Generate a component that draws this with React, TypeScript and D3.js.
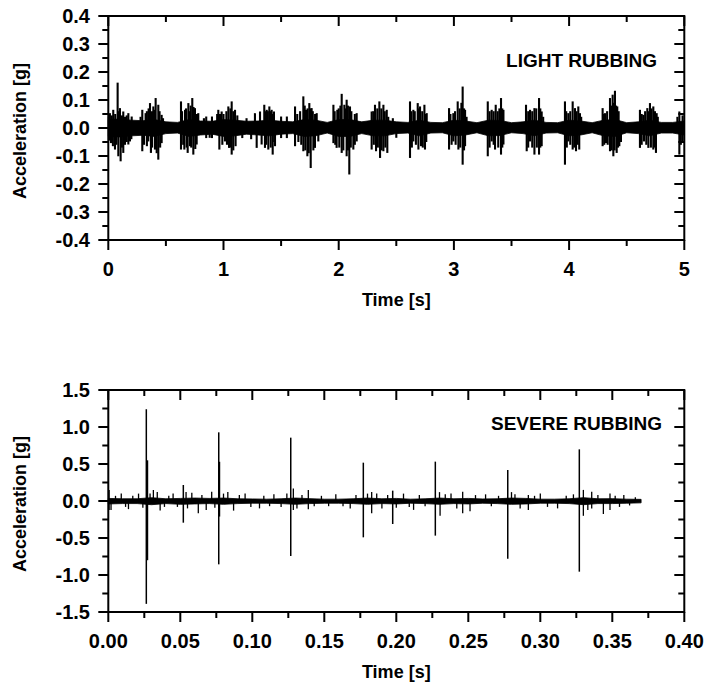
import React from 'react';
import * as d3 from 'd3';

// ---------- TOP PANEL (LIGHT RUBBING) ----------
const topXTicks = [0, 1, 2, 3, 4, 5];
const topXLabels = ['0', '1', '2', '3', '4', '5'];
const topXMinor = [0.5, 1.5, 2.5, 3.5, 4.5];
const topYTicks = [0.4, 0.3, 0.2, 0.1, 0.0, -0.1, -0.2, -0.3, -0.4];
const topYLabels = ['0.4', '0.3', '0.2', '0.1', '0.0', '-0.1', '-0.2', '-0.3', '-0.4'];
const topYMinor = [0.35, 0.25, 0.15, 0.05, -0.05, -0.15, -0.25, -0.35];

const topBandT = [0, 0.1, 0.2, 0.3, 0.4, 0.5, 0.6, 0.7, 0.8, 0.9, 1.0, 1.1, 1.2, 1.3, 1.4, 1.5, 1.6, 1.7, 1.8, 1.9, 2.0, 2.1, 2.2, 2.3, 2.4, 2.5, 2.6, 2.7, 2.8, 2.9, 3.0, 3.1, 3.2, 3.3, 3.4, 3.5, 3.6, 3.7, 3.8, 3.9, 4.0, 4.1, 4.2, 4.3, 4.4, 4.5, 4.6, 4.7, 4.8, 4.9, 5.0];
const topBandUpper = [0.03, 0.032, 0.028, 0.026, 0.03, 0.022, 0.02, 0.03, 0.025, 0.024, 0.03, 0.028, 0.024, 0.025, 0.028, 0.024, 0.022, 0.03, 0.028, 0.02, 0.03, 0.03, 0.022, 0.028, 0.028, 0.022, 0.02, 0.028, 0.02, 0.019, 0.028, 0.025, 0.019, 0.028, 0.027, 0.019, 0.022, 0.028, 0.02, 0.019, 0.028, 0.025, 0.019, 0.028, 0.03, 0.019, 0.022, 0.028, 0.02, 0.02, 0.025];
const topBandLower = [-0.03, -0.032, -0.028, -0.026, -0.03, -0.02, -0.018, -0.03, -0.025, -0.022, -0.03, -0.028, -0.022, -0.025, -0.028, -0.022, -0.02, -0.03, -0.028, -0.018, -0.03, -0.03, -0.02, -0.028, -0.028, -0.02, -0.018, -0.028, -0.018, -0.017, -0.028, -0.025, -0.017, -0.028, -0.027, -0.017, -0.02, -0.028, -0.018, -0.017, -0.028, -0.025, -0.017, -0.028, -0.03, -0.017, -0.02, -0.028, -0.018, -0.018, -0.025];

// [time s, peak acceleration g]
const topSpikes: [number, number][] = [
  [0.014, 0.053], [0.043, 0.065], [0.081, 0.162], [0.101, 0.071], [0.13, 0.059], [0.174, 0.053], [0.203, 0.041],
  [0.023, -0.054], [0.058, -0.077], [0.087, -0.101], [0.107, -0.119], [0.13, -0.089], [0.174, -0.059], [0.188, -0.048],
  [0.005, 0.04], [0.03, 0.045], [0.06, 0.05], [0.07, -0.06], [0.09, 0.06], [0.118, 0.045], [0.118, -0.07],
  [0.145, 0.04], [0.145, -0.06], [0.16, 0.045], [0.16, -0.05], [0.2, -0.04], [0.04, -0.065], [0.01, -0.045],
  [0.295, 0.065], [0.324, 0.053], [0.362, 0.089], [0.391, 0.077], [0.411, 0.107], [0.434, 0.083], [0.463, 0.047],
  [0.295, -0.083], [0.347, -0.048], [0.37, -0.089], [0.405, -0.077], [0.434, -0.113], [0.463, -0.054],
  [0.28, 0.04], [0.31, -0.06], [0.335, 0.06], [0.335, -0.065], [0.35, 0.07], [0.38, 0.06], [0.38, -0.07],
  [0.4, 0.065], [0.42, -0.09], [0.445, 0.06], [0.45, -0.07], [0.475, 0.035],
  [0.631, 0.095], [0.666, 0.065], [0.695, 0.089], [0.729, 0.107], [0.752, 0.071], [0.781, 0.053],
  [0.631, -0.077], [0.66, -0.077], [0.689, -0.089], [0.709, -0.065], [0.738, -0.095], [0.767, -0.059],
  [0.64, 0.06], [0.65, -0.06], [0.675, 0.07], [0.68, -0.07], [0.7, 0.06], [0.715, 0.08], [0.72, -0.07],
  [0.74, 0.075], [0.755, -0.075], [0.77, 0.05],
  [0.85, 0.041], [0.9, 0.041], [0.85, -0.036], [0.9, -0.036], [0.83, 0.035], [0.88, -0.035],
  [0.955, 0.065], [0.984, 0.059], [1.042, 0.077], [1.071, 0.095], [1.1, 0.065],
  [0.964, -0.077], [1.013, -0.048], [1.048, -0.071], [1.071, -0.095], [1.105, -0.065], [1.163, -0.036],
  [0.945, 0.05], [0.97, 0.05], [0.99, -0.06], [1.0, 0.05], [1.025, 0.06], [1.03, -0.06], [1.06, 0.07],
  [1.06, -0.07], [1.085, 0.06], [1.085, -0.08], [1.12, 0.045],
  [1.273, 0.053], [1.317, 0.059], [1.288, -0.071], [1.331, -0.059], [1.2, 0.035], [1.24, -0.04],
  [1.354, 0.083], [1.375, 0.065], [1.398, 0.077], [1.418, 0.065], [1.438, 0.059],
  [1.36, -0.071], [1.389, -0.077], [1.427, -0.095], [1.447, -0.065],
  [1.365, 0.06], [1.37, -0.06], [1.385, 0.06], [1.408, 0.06], [1.41, -0.07], [1.43, 0.05], [1.44, -0.05],
  [1.5, 0.041], [1.55, 0.041], [1.5, -0.036], [1.55, -0.036],
  [1.621, 0.077], [1.693, 0.113], [1.716, 0.065], [1.745, 0.089], [1.765, 0.071], [1.809, 0.053],
  [1.621, -0.065], [1.693, -0.083], [1.728, -0.101], [1.757, -0.143], [1.794, -0.071], [1.823, -0.048],
  [1.64, 0.05], [1.65, -0.05], [1.665, 0.06], [1.675, -0.06], [1.705, 0.08], [1.71, -0.08], [1.73, 0.07],
  [1.74, -0.09], [1.755, 0.07], [1.775, 0.06], [1.78, -0.08], [1.795, 0.05],
  [1.954, 0.083], [1.988, 0.065], [2.026, 0.122], [2.049, 0.083], [2.069, 0.101], [2.098, 0.077], [2.156, 0.053],
  [1.954, -0.054], [1.982, -0.071], [2.026, -0.089], [2.069, -0.101], [2.092, -0.166], [2.127, -0.077], [2.156, -0.048],
  [1.965, 0.06], [1.97, -0.06], [2.0, 0.07], [2.005, -0.07], [2.015, 0.08], [2.04, -0.08], [2.06, 0.07],
  [2.08, 0.08], [2.08, -0.08], [2.11, 0.06], [2.105, -0.07], [2.14, 0.05], [2.14, -0.06],
  [2.286, 0.059], [2.315, 0.083], [2.353, 0.095], [2.388, 0.083], [2.417, 0.065],
  [2.286, -0.077], [2.324, -0.083], [2.359, -0.107], [2.388, -0.083], [2.422, -0.089],
  [2.3, 0.06], [2.305, -0.06], [2.335, 0.07], [2.34, -0.07], [2.37, 0.07], [2.372, -0.08], [2.4, 0.06],
  [2.405, -0.07], [2.43, 0.04], [2.47, 0.035], [2.5, -0.035],
  [2.619, 0.095], [2.648, 0.065], [2.686, 0.089], [2.706, 0.077], [2.744, 0.083], [2.764, 0.053],
  [2.619, -0.107], [2.648, -0.048], [2.692, -0.077], [2.715, -0.065], [2.749, -0.077],
  [2.63, 0.06], [2.635, -0.07], [2.66, 0.06], [2.67, -0.06], [2.695, 0.07], [2.725, 0.06], [2.73, -0.07],
  [2.755, 0.05], [2.76, -0.05],
  [2.958, 0.071], [2.995, 0.053], [3.033, 0.095], [3.076, 0.148], [3.097, 0.065],
  [2.958, -0.077], [2.995, -0.048], [3.039, -0.077], [3.076, -0.131], [3.097, -0.065],
  [2.97, 0.05], [2.98, -0.06], [3.01, 0.06], [3.015, -0.06], [3.05, 0.07], [3.055, -0.07], [3.065, 0.09],
  [3.088, 0.07], [3.088, -0.08], [3.11, 0.04],
  [3.294, 0.095], [3.328, 0.065], [3.363, 0.083], [3.409, 0.107], [3.43, 0.065],
  [3.294, -0.101], [3.328, -0.048], [3.357, -0.077], [3.409, -0.095], [3.43, -0.059],
  [3.31, 0.06], [3.31, -0.07], [3.345, 0.06], [3.345, -0.06], [3.38, 0.06], [3.385, -0.07], [3.395, 0.07],
  [3.42, -0.07], [3.42, 0.07],
  [3.626, 0.083], [3.661, 0.065], [3.699, 0.071], [3.739, 0.107], [3.762, 0.059],
  [3.632, -0.083], [3.661, -0.048], [3.699, -0.095], [3.739, -0.095], [3.762, -0.065],
  [3.645, 0.06], [3.645, -0.07], [3.68, 0.06], [3.68, -0.07], [3.715, 0.07], [3.72, -0.07], [3.75, 0.07],
  [3.75, -0.07], [3.775, 0.04],
  [3.964, 0.095], [3.993, 0.053], [4.031, 0.095], [4.051, 0.071], [4.08, 0.077], [4.094, 0.053],
  [3.964, -0.131], [3.993, -0.048], [4.031, -0.077], [4.06, -0.083], [4.088, -0.077],
  [3.975, 0.06], [3.98, -0.07], [4.01, 0.06], [4.01, -0.06], [4.045, -0.07], [4.065, 0.06], [4.075, -0.06],
  [4.105, 0.04],
  [4.291, 0.071], [4.311, 0.053], [4.355, 0.107], [4.378, 0.119], [4.398, 0.133], [4.418, 0.077],
  [4.291, -0.065], [4.32, -0.054], [4.355, -0.083], [4.384, -0.101], [4.413, -0.089], [4.436, -0.065],
  [4.3, 0.05], [4.305, -0.06], [4.33, 0.06], [4.335, -0.06], [4.365, 0.08], [4.37, -0.08], [4.39, 0.09],
  [4.395, -0.08], [4.408, 0.08], [4.425, -0.07], [4.43, 0.06], [4.45, -0.05],
  [4.615, 0.065], [4.644, 0.047], [4.679, 0.071], [4.702, 0.089], [4.731, 0.077], [4.76, 0.053],
  [4.615, -0.071], [4.65, -0.048], [4.688, -0.071], [4.731, -0.077], [4.754, -0.089],
  [4.63, 0.05], [4.63, -0.06], [4.66, 0.06], [4.67, -0.06], [4.69, 0.06], [4.71, -0.07], [4.715, 0.07],
  [4.745, 0.06], [4.745, -0.07], [4.77, 0.04],
  [4.957, 0.059], [4.957, -0.095], [4.985, 0.045], [4.985, -0.05], [4.94, 0.04], [4.97, -0.06],
];

// ---------- BOTTOM PANEL (SEVERE RUBBING) ----------
const botXTicks = [0, 0.05, 0.1, 0.15, 0.2, 0.25, 0.3, 0.35, 0.4];
const botXLabels = ['0.00', '0.05', '0.10', '0.15', '0.20', '0.25', '0.30', '0.35', '0.40'];
const botXMinor = [0.025, 0.075, 0.125, 0.175, 0.225, 0.275, 0.325, 0.375];
const botYTicks = [1.5, 1.0, 0.5, 0.0, -0.5, -1.0, -1.5];
const botYLabels = ['1.5', '1.0', '0.5', '0.0', '-0.5', '-1.0', '-1.5'];
const botYMinor = [1.25, 0.75, 0.25, -0.25, -0.75, -1.25];

const botBandT = [0, 0.01, 0.02, 0.03, 0.04, 0.05, 0.06, 0.07, 0.08, 0.09, 0.1, 0.11, 0.12, 0.13, 0.14, 0.15, 0.16, 0.17, 0.18, 0.19, 0.2, 0.21, 0.22, 0.23, 0.24, 0.25, 0.26, 0.27, 0.28, 0.29, 0.3, 0.31, 0.32, 0.33, 0.34, 0.35, 0.36, 0.37];
const botBandUpper = [0.035, 0.03, 0.03, 0.045, 0.03, 0.035, 0.04, 0.035, 0.04, 0.03, 0.028, 0.025, 0.03, 0.04, 0.032, 0.025, 0.025, 0.03, 0.04, 0.03, 0.035, 0.025, 0.03, 0.04, 0.03, 0.035, 0.028, 0.03, 0.04, 0.035, 0.025, 0.025, 0.03, 0.045, 0.03, 0.032, 0.025, 0.022];
const botBandLower = [-0.04, -0.035, -0.035, -0.05, -0.035, -0.045, -0.04, -0.035, -0.045, -0.035, -0.03, -0.03, -0.035, -0.045, -0.035, -0.03, -0.03, -0.035, -0.045, -0.035, -0.04, -0.03, -0.035, -0.045, -0.035, -0.04, -0.03, -0.035, -0.045, -0.04, -0.03, -0.03, -0.035, -0.05, -0.035, -0.035, -0.03, -0.025];

// major impacts: time, positive peak, negative peak
const botImpactT = [0.0005, 0.0264, 0.0272, 0.0521, 0.0767, 0.0772, 0.1267, 0.1771, 0.1975, 0.2271, 0.2774, 0.3271];
const botImpactUp = [0.15, 1.24, 0.55, 0.216, 0.928, 0.53, 0.856, 0.518, 0.14, 0.532, 0.419, 0.698];
const botImpactDown = [-0.12, -1.39, -0.8, -0.293, -0.856, -0.21, -0.743, -0.491, -0.311, -0.468, -0.779, -0.955];

// small noise spikes [time s, value g]
const botSpikes: [number, number][] = [
  [0.0019, -0.12], [0.005, 0.07], [0.009, 0.1], [0.012, -0.08], [0.014, -0.11], [0.017, 0.07], [0.021, 0.1],
  [0.024, -0.09], [0.029, 0.1], [0.0313, 0.149], [0.034, 0.12], [0.036, -0.13], [0.039, -0.08], [0.042, 0.07],
  [0.045, 0.1], [0.048, -0.08], [0.054, 0.12], [0.055, -0.1], [0.058, 0.11], [0.0625, -0.167], [0.065, 0.08],
  [0.068, -0.12], [0.0718, 0.126], [0.074, -0.09], [0.08, 0.1], [0.083, 0.12], [0.087, -0.13], [0.091, 0.08],
  [0.095, 0.1], [0.099, -0.08], [0.105, -0.1], [0.108, 0.07], [0.112, -0.07], [0.115, 0.09], [0.12, -0.08],
  [0.124, 0.1], [0.1285, 0.17], [0.1285, -0.12], [0.131, -0.1], [0.1345, 0.08], [0.1389, 0.149], [0.1389, -0.11],
  [0.143, -0.07], [0.148, 0.07], [0.153, -0.07], [0.158, 0.09], [0.163, -0.07], [0.168, -0.1], [0.172, 0.08],
  [0.18, 0.1], [0.1829, -0.167], [0.1829, 0.12], [0.1864, 0.1], [0.19, -0.1], [0.194, 0.08], [0.2, -0.09],
  [0.205, 0.1], [0.209, -0.08], [0.212, -0.12], [0.216, 0.08], [0.22, -0.07], [0.23, 0.12], [0.2304, -0.2],
  [0.234, 0.09], [0.238, 0.1], [0.242, -0.1], [0.2461, 0.126], [0.2461, -0.167], [0.2512, -0.14], [0.255, 0.08],
  [0.262, 0.09], [0.266, -0.07], [0.271, 0.07], [0.28, 0.12], [0.2824, 0.09], [0.286, -0.1], [0.2917, 0.08],
  [0.2917, -0.12], [0.296, 0.07], [0.3, 0.1], [0.305, -0.08], [0.312, -0.1], [0.318, 0.07], [0.323, 0.09],
  [0.3299, 0.15], [0.3299, -0.2], [0.333, -0.12], [0.3357, 0.126], [0.3357, -0.1], [0.34, 0.08],
  [0.3438, -0.176], [0.3484, 0.1], [0.3484, -0.12], [0.352, 0.07], [0.355, -0.08], [0.358, 0.08],
  [0.362, -0.06], [0.366, 0.05],
];

const FONT = '"Liberation Sans", Arial, Helvetica, sans-serif';

type PanelProps = {
  x0: number; x1: number; y0: number; y1: number;
  xDomain: [number, number]; yDomain: [number, number];
  xTicks: number[]; xLabels: string[]; xMinor: number[];
  yTicks: number[]; yLabels: string[]; yMinor: number[];
  bandT: number[]; bandUpper: number[]; bandLower: number[];
  spikes: [number, number][];
  impactT?: number[]; impactUp?: number[]; impactDown?: number[];
  label: string; labelX: number; labelY: number;
  spikeWidth: number;
};

function Panel(p: PanelProps) {
  const x = d3.scaleLinear().domain(p.xDomain).range([p.x0, p.x1]);
  const y = d3.scaleLinear().domain(p.yDomain).range([p.y1, p.y0]);
  const band = p.bandT.map((t, i) => ({ t, u: p.bandUpper[i], l: p.bandLower[i] }));
  const area = d3.area<{ t: number; u: number; l: number }>()
    .x(d => x(d.t)).y0(d => y(d.l)).y1(d => y(d.u));
  const majorLen = 10;
  const minorLen = 6;
  const midY = (p.y0 + p.y1) / 2;
  const midX = (p.x0 + p.x1) / 2;
  return (
    <g>
      <path d={area(band) || ''} fill="#000" stroke="#000" strokeWidth={0.8} />
      {p.spikes.map((s, i) => (
        <line key={'s' + i} x1={x(s[0])} x2={x(s[0])} y1={y(0)} y2={y(s[1])} stroke="#000" strokeWidth={p.spikeWidth} />
      ))}
      {p.impactT && p.impactT.map((t, i) => (
        <line key={'m' + i} x1={x(t)} x2={x(t)} y1={y(p.impactDown![i])} y2={y(p.impactUp![i])} stroke="#000" strokeWidth={1.5} />
      ))}
      <rect x={p.x0} y={p.y0} width={p.x1 - p.x0} height={p.y1 - p.y0} fill="none" stroke="#000" strokeWidth={2} />
      {p.xTicks.map((t, i) => (
        <g key={'xt' + i}>
          <line x1={x(t)} x2={x(t)} y1={p.y1} y2={p.y1 + majorLen} stroke="#000" strokeWidth={2} />
          <line x1={x(t)} x2={x(t)} y1={p.y0} y2={p.y0 + majorLen} stroke="#000" strokeWidth={2} />
          <text x={x(t)} y={p.y1 + 36} textAnchor="middle" fontFamily={FONT} fontWeight="bold" fontSize={20}>{p.xLabels[i]}</text>
        </g>
      ))}
      {p.xMinor.map((t, i) => (
        <g key={'xm' + i}>
          <line x1={x(t)} x2={x(t)} y1={p.y1} y2={p.y1 + minorLen} stroke="#000" strokeWidth={2} />
          <line x1={x(t)} x2={x(t)} y1={p.y0} y2={p.y0 + minorLen} stroke="#000" strokeWidth={2} />
        </g>
      ))}
      {p.yTicks.map((v, i) => (
        <g key={'yt' + i}>
          <line x1={p.x0 - majorLen} x2={p.x0} y1={y(v)} y2={y(v)} stroke="#000" strokeWidth={2} />
          <line x1={p.x1 - majorLen} x2={p.x1} y1={y(v)} y2={y(v)} stroke="#000" strokeWidth={2} />
          <text x={90} y={y(v)} dy="0.36em" textAnchor="end" fontFamily={FONT} fontWeight="bold" fontSize={20}>{p.yLabels[i]}</text>
        </g>
      ))}
      {p.yMinor.map((v, i) => (
        <g key={'ym' + i}>
          <line x1={p.x0 - minorLen} x2={p.x0} y1={y(v)} y2={y(v)} stroke="#000" strokeWidth={2} />
          <line x1={p.x1 - minorLen} x2={p.x1} y1={y(v)} y2={y(v)} stroke="#000" strokeWidth={2} />
        </g>
      ))}
      <text x={midX} y={p.y1 + 66} textAnchor="middle" fontFamily={FONT} fontWeight="bold" fontSize={18}>Time [s]</text>
      <text transform={`translate(25.5, ${midY + 3}) rotate(-90)`} textAnchor="middle" fontFamily={FONT} fontWeight="bold" fontSize={18}>Acceleration [g]</text>
      <text x={p.labelX} y={p.labelY} textAnchor="end" fontFamily={FONT} fontWeight="bold" fontSize={19}>{p.label}</text>
    </g>
  );
}

export default function App() {
  return (
    <svg width={706} height={686} style={{ position: 'absolute', left: 0, top: 0, background: '#fff' }}>
      <rect x={0} y={0} width={706} height={686} fill="#fff" />
      <Panel
        x0={108.3} x1={684.3} y0={16} y1={240}
        xDomain={[0, 5]} yDomain={[-0.4, 0.4]}
        xTicks={topXTicks} xLabels={topXLabels} xMinor={topXMinor}
        yTicks={topYTicks} yLabels={topYLabels} yMinor={topYMinor}
        bandT={topBandT} bandUpper={topBandUpper} bandLower={topBandLower}
        spikes={topSpikes}
        label="LIGHT RUBBING" labelX={657} labelY={67}
        spikeWidth={2.1}
      />
      <Panel
        x0={108.3} x1={684.3} y0={390} y1={612}
        xDomain={[0, 0.4]} yDomain={[-1.5, 1.5]}
        xTicks={botXTicks} xLabels={botXLabels} xMinor={botXMinor}
        yTicks={botYTicks} yLabels={botYLabels} yMinor={botYMinor}
        bandT={botBandT} bandUpper={botBandUpper} bandLower={botBandLower}
        spikes={botSpikes}
        impactT={botImpactT} impactUp={botImpactUp} impactDown={botImpactDown}
        label="SEVERE RUBBING" labelX={662} labelY={430}
        spikeWidth={1.3}
      />
    </svg>
  );
}
